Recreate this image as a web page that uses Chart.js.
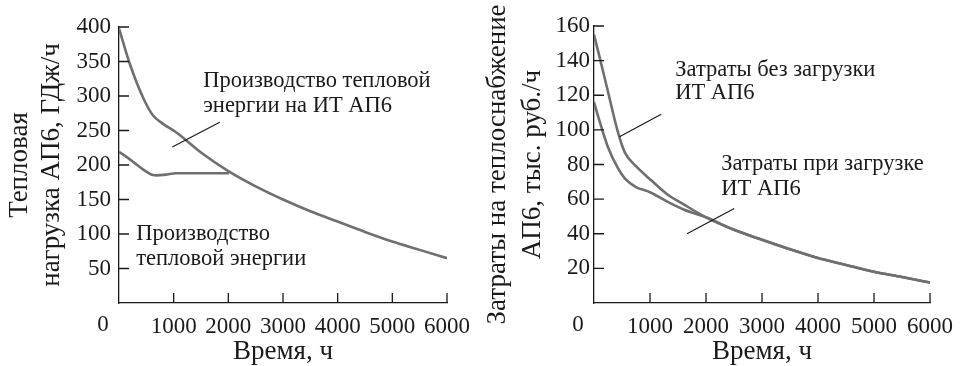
<!DOCTYPE html>
<html>
<head>
<meta charset="utf-8">
<script src="https://cdn.jsdelivr.net/npm/chart.js@4.4.1/dist/chart.umd.min.js"></script>
<style>
  html, body { margin: 0; padding: 0; background: #fff; }
  #wrap { position: relative; width: 963px; height: 366px; }
  #heatChart { position: absolute; left: 0; top: 0; }
  #costChart { position: absolute; left: 480px; top: 0; }
</style>
</head>
<body>
<div id="wrap">
  <canvas id="heatChart" width="480" height="366"></canvas>
  <canvas id="costChart" width="483" height="366"></canvas>
</div>
<script>
// ---- left panel: heat load, GJ/h ----
var heatHoursIT = [0, 200, 450, 620, 800, 1050, 1500, 2000, 2500, 3000, 3500, 4000, 4500, 5000, 5500, 6000];
var heatLoadIT  = [398, 346, 296, 272, 260, 247, 218, 191, 169, 150, 133, 118, 103, 89, 77, 65];
var heatHoursOwn = [0, 150, 300, 450, 600, 700, 850, 1050, 1500, 2010];
var heatLoadOwn  = [219, 211, 202, 193, 186, 185, 186, 188, 188, 188];
var heatTicks = [0, 50, 100, 150, 200, 250, 300, 350, 400];

// ---- right panel: heat supply costs, thousand rub/h ----
var costHours    = [0, 100, 250, 425, 550, 750, 1000, 1300, 1600, 2000, 2500, 3000, 3500, 4000, 4500, 5000, 5500, 6000];
var costNoLoad   = [155, 142, 122, 99, 87, 79, 71.5, 63, 57, 49.5, 42.3, 36.5, 31, 26, 22, 18, 15, 11.8];
var costWithLoad = [116, 105, 90, 78, 72, 67, 64, 58.7, 54, 49.5, 42.3, 36.5, 31, 26, 22, 18, 15, 11.8];
var costTicks = [0, 20, 40, 60, 80, 100, 120, 140, 160];

var hourTicks = [0, 1000, 2000, 3000, 4000, 5000, 6000];

var ink = '#1a1a1a';
var curve = '#6f6f6f';
Chart.defaults.font.family = '"Liberation Serif", "DejaVu Serif", serif';
Chart.defaults.color = ink;

function toPoints(xs, ys) {
  return xs.map(function (x, i) { return { x: x, y: ys[i] }; });
}

// inside tick marks, labels, pointer lines
var marksPlugin = {
  id: 'marks',
  afterDraw: function (chart, args, opts) {
    var ctx = chart.ctx, xs = chart.scales.x, ys = chart.scales.y, area = chart.chartArea;
    ctx.save();
    ctx.strokeStyle = ink;
    ctx.lineWidth = 1.3;
    ctx.beginPath();
    xs.ticks.forEach(function (t) {
      if (t.value === 0) return;
      var px = xs.getPixelForValue(t.value);
      ctx.moveTo(px, area.bottom);
      ctx.lineTo(px, area.bottom - 10);
    });
    ys.ticks.forEach(function (t) {
      if (t.value === 0) return;
      var py = ys.getPixelForValue(t.value);
      ctx.moveTo(area.left, py);
      ctx.lineTo(area.left + 10, py);
    });
    ctx.stroke();

    ctx.lineWidth = 1.2;
    ctx.beginPath();
    opts.pointers.forEach(function (p) {
      ctx.moveTo(xs.getPixelForValue(p[0]), ys.getPixelForValue(p[1]));
      ctx.lineTo(xs.getPixelForValue(p[2]), ys.getPixelForValue(p[3]));
    });
    ctx.stroke();

    ctx.fillStyle = ink;
    ctx.textBaseline = 'middle';
    ctx.textAlign = 'left';
    ctx.font = '22.5px "Liberation Serif"';
    opts.notes.forEach(function (n) {
      ctx.fillText(n.text, xs.getPixelForValue(n.x), ys.getPixelForValue(n.y));
    });

    // shared zero in the corner
    ctx.textAlign = 'center';
    ctx.font = '23px "Liberation Serif"';
    ctx.fillText('0', area.left - 16, area.bottom + 22);
    ctx.restore();
  }
};

function makeChart(id, cfg) {
  return new Chart(document.getElementById(id), {
    type: 'line',
    data: { datasets: cfg.datasets },
    options: {
      responsive: false,
      animation: false,
      layout: { padding: { top: cfg.top, right: cfg.right, left: 0, bottom: 0 } },
      plugins: {
        legend: { display: false },
        tooltip: { enabled: false },
        marks: { notes: cfg.notes, pointers: cfg.pointers }
      },
      elements: { point: { radius: 0 } },
      scales: {
        x: {
          type: 'linear',
          min: 0, max: 6000,
          afterBuildTicks: function (s) { s.ticks = hourTicks.map(function (v) { return { value: v }; }); },
          afterFit: function (s) { s.height = 63; },
          grid: { display: false, drawTicks: false },
          border: { display: true, color: ink, width: 1.3 },
          ticks: {
            padding: 10,
            maxRotation: 0,
            font: { size: 23 },
            color: ink,
            callback: function (v) { return v === 0 ? '' : String(v); }
          },
          title: {
            display: true,
            text: 'Время, ч',
            font: { size: 27, lineHeight: 1.04 },
            color: ink,
            padding: { top: 0, bottom: 0 }
          }
        },
        y: {
          min: 0, max: cfg.yMax,
          afterBuildTicks: function (s) { s.ticks = cfg.yTicks.map(function (v) { return { value: v }; }); },
          afterFit: function (s) { s.width = cfg.axisX; },
          grid: { display: false, drawTicks: false },
          border: { display: true, color: ink, width: 1.3 },
          ticks: {
            padding: cfg.tickPad,
            font: { size: 23 },
            color: ink,
            callback: function (v) { return v === 0 ? '' : String(v); }
          },
          title: {
            display: true,
            text: cfg.yTitle,
            font: { size: 27, lineHeight: cfg.titleLH },
            color: ink,
            padding: { top: cfg.titlePad, bottom: 0 }
          }
        }
      }
    },
    plugins: [marksPlugin]
  });
}

function lineSet(xs, ys) {
  return {
    data: toPoints(xs, ys),
    borderColor: curve,
    borderWidth: 2.6,
    fill: false,
    cubicInterpolationMode: 'monotone'
  };
}

makeChart('heatChart', {
  datasets: [lineSet(heatHoursIT, heatLoadIT), lineSet(heatHoursOwn, heatLoadOwn)],
  yMax: 400,
  yTicks: heatTicks,
  axisX: 119,
  top: 27,
  right: 28,
  tickPad: 8,
  yTitle: ['Тепловая', 'нагрузка АП6, ГДж/ч'],
  titleLH: 1.185,
  titlePad: 4,
  notes: [
    { text: 'Производство тепловой', x: 1540, y: 322 },
    { text: 'энергии на ИТ АП6', x: 1540, y: 286 },
    { text: 'Производство', x: 315, y: 100 },
    { text: 'тепловой энергии', x: 315, y: 64 }
  ],
  pointers: [[975, 226, 1843, 262]]
});

makeChart('costChart', {
  datasets: [lineSet(costHours, costNoLoad), lineSet(costHours, costWithLoad)],
  yMax: 160,
  yTicks: costTicks,
  axisX: 114,
  top: 26,
  right: 26,
  tickPad: 4,
  yTitle: ['Затраты на теплоснабжение', 'АП6, тыс. руб./ч'],
  titleLH: 1.3,
  titlePad: 0,
  notes: [
    { text: 'Затраты без загрузки', x: 1451, y: 134.5 },
    { text: 'ИТ АП6', x: 1451, y: 121 },
    { text: 'Затраты при загрузке', x: 2273, y: 80 },
    { text: 'ИТ АП6', x: 2273, y: 66 }
  ],
  pointers: [[455, 96, 1201, 109], [1661, 40, 2505, 54.6]]
});
</script>
</body>
</html>
